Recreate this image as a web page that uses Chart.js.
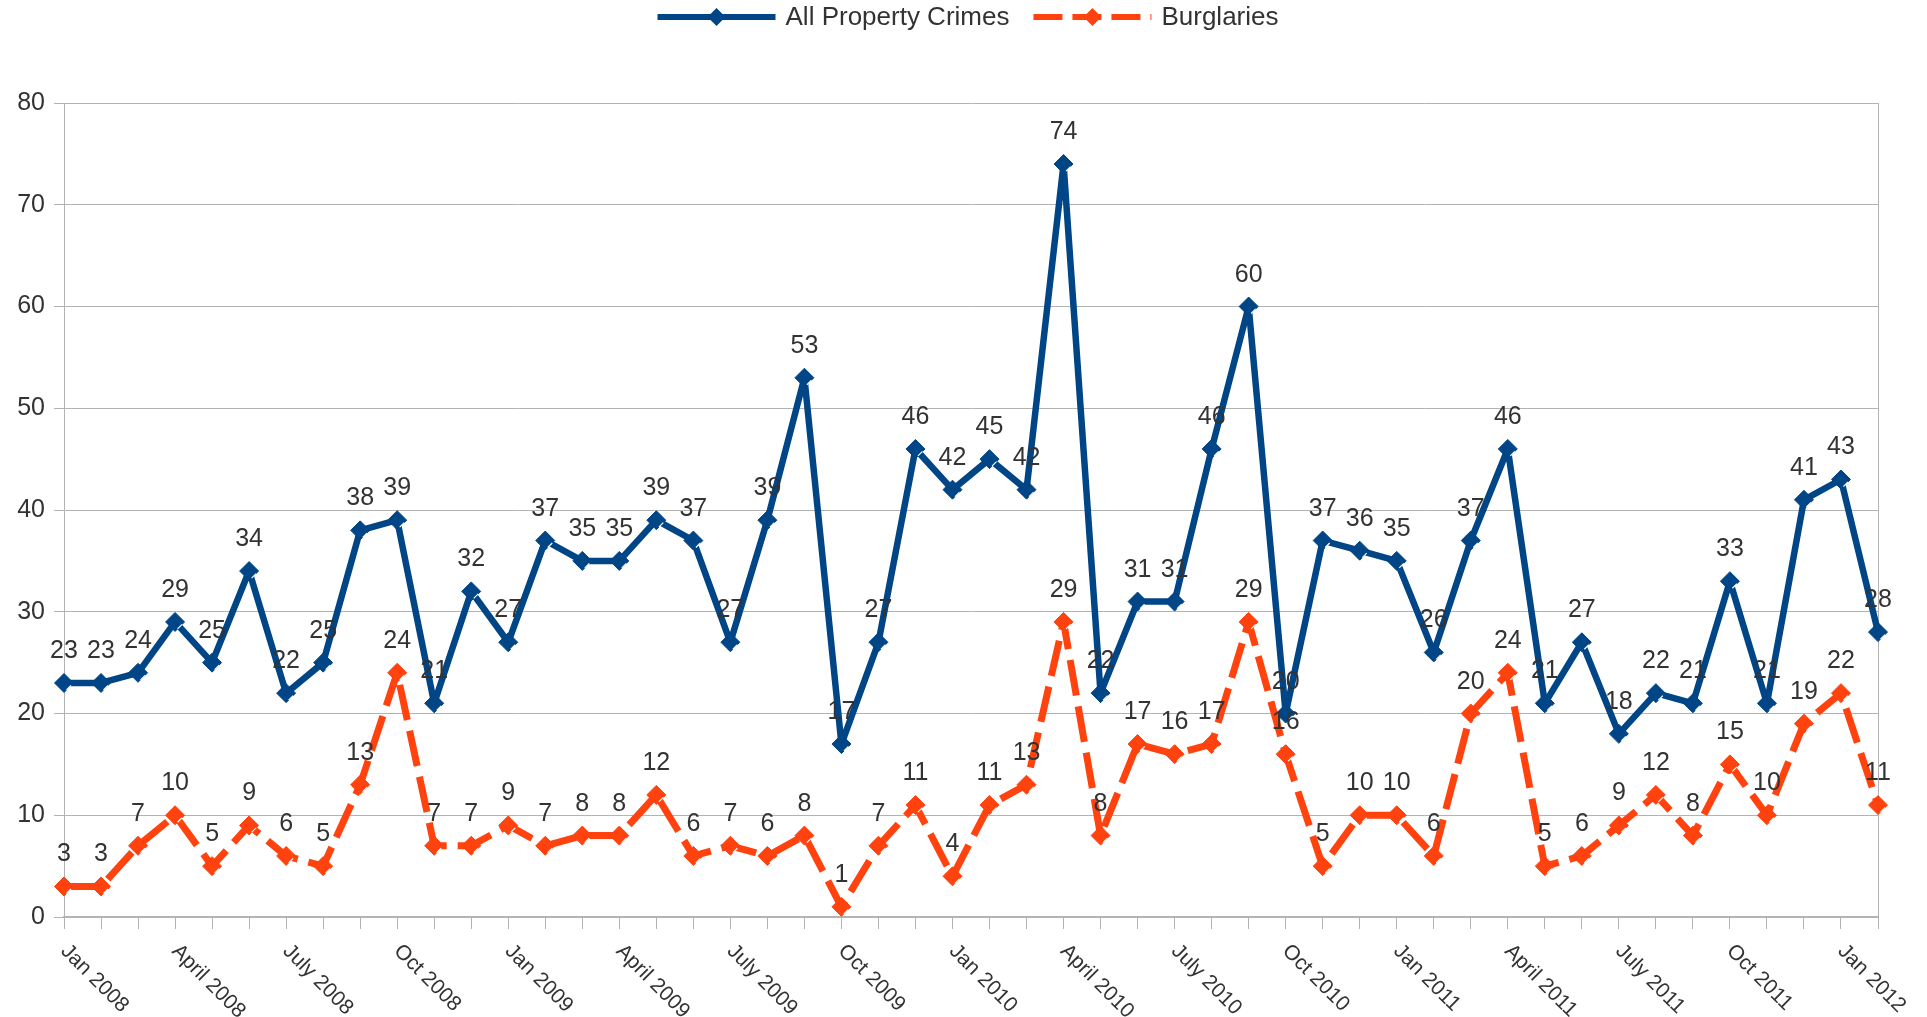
<!DOCTYPE html>
<html>
<head>
<meta charset="utf-8">
<script src="https://cdn.jsdelivr.net/npm/chart.js@4.4.0/dist/chart.umd.min.js"></script>
<style>
  html, body { margin: 0; padding: 0; background: #fff; overflow: hidden; }
  #wrap { width: 1927px; height: 1017px; }
</style>
</head>
<body>
<div id="wrap"><canvas id="chart"></canvas></div>
<script>
// month names used on the category axis (only every third one is shown)
const monthNames = ['Jan', 'Feb', 'March', 'April', 'May', 'June', 'July', 'Aug', 'Sept', 'Oct', 'Nov', 'Dec'];
const years = [2008, 2009, 2010, 2011, 2012];

const seriesNames = ['All Property Crimes', 'Burglaries'];

const allProperty = [23, 23, 24, 29, 25, 34, 22, 25, 38, 39, 21, 32, 27, 37, 35, 35, 39, 37, 27, 39,
  53, 17, 27, 46, 42, 45, 42, 74, 22, 31, 31, 46, 60, 20, 37, 36, 35, 26, 37, 46,
  21, 27, 18, 22, 21, 33, 21, 41, 43, 28];

const burglaries = [3, 3, 7, 10, 5, 9, 6, 5, 13, 24, 7, 7, 9, 7, 8, 8, 12, 6, 7, 6,
  8, 1, 7, 11, 4, 11, 13, 29, 8, 17, 16, 17, 29, 16, 5, 10, 10, 6, 20, 24,
  5, 6, 9, 12, 8, 15, 10, 19, 22, 11];

const yMin = 0, yMax = 80, yStep = 10;

// Jan 2008 .. Feb 2012, one per data point
const categories = [];
years.forEach(y => monthNames.forEach(m => {
  if (categories.length < allProperty.length) categories.push(m + ' ' + y);
}));

const BLUE = '#004586';
const ORANGE = '#ff420e';
const TEXT = '#333333';
const GRID = '#b3b3b3';
const FONT = '"Liberation Sans", Arial, sans-serif';
const DASH = [36, 11];

Chart.defaults.font.family = FONT;

function diamond(ctx, x, y, r, color) {
  ctx.beginPath();
  ctx.moveTo(x - r, y);
  ctx.lineTo(x, y - r);
  ctx.lineTo(x + r, y);
  ctx.lineTo(x, y + r);
  ctx.closePath();
  ctx.fillStyle = color;
  ctx.fill();
}

// little white bevel on the lower right edge of each marker + value labels
const valueLabels = {
  id: 'valueLabels',
  afterDatasetsDraw(chart) {
    const ctx = chart.ctx;
    ctx.save();
    chart.data.datasets.forEach((ds, i) => {
      chart.getDatasetMeta(i).data.forEach(pt => {
        ctx.beginPath();
        ctx.moveTo(pt.x + 7, pt.y + 2.5);
        ctx.lineTo(pt.x + 2.5, pt.y + 7);
        ctx.strokeStyle = '#ffffff';
        ctx.lineWidth = 1.2;
        ctx.stroke();
      });
    });
    ctx.font = '25px ' + FONT;
    ctx.fillStyle = TEXT;
    ctx.textAlign = 'center';
    ctx.textBaseline = 'alphabetic';
    chart.data.datasets.forEach((ds, i) => {
      chart.getDatasetMeta(i).data.forEach((pt, j) => {
        ctx.fillText(String(ds.data[j]), pt.x, pt.y - 25);
      });
    });
    ctx.restore();
  }
};

// rotated month labels (start at the tick and run down to the right)
const xLabels = {
  id: 'xLabels',
  afterDraw(chart) {
    const sx = chart.scales.x;
    const ctx = chart.ctx;
    ctx.save();
    ctx.font = '21px ' + FONT;
    ctx.fillStyle = TEXT;
    ctx.textAlign = 'left';
    ctx.textBaseline = 'middle';
    categories.forEach((c, i) => {
      if (i % 3 !== 0) return;
      const px = sx.getPixelForValue(i);
      ctx.save();
      ctx.translate(px, sx.top + 31);
      ctx.rotate(Math.PI / 4);
      ctx.fillText(c, 0, 0);
      ctx.restore();
    });
    ctx.restore();
  }
};

// legend: line + diamond sample, then the name
const topLegend = {
  id: 'topLegend',
  afterDraw(chart) {
    const ctx = chart.ctx;
    const lineLen = 118, gap = 10, itemGap = 24, cy = 17;
    ctx.save();
    ctx.font = '26px ' + FONT;
    const widths = seriesNames.map(n => ctx.measureText(n).width);
    const total = widths.reduce((a, w) => a + lineLen + gap + w, 0) + itemGap;
    let x = 968 - total / 2;
    const colors = [BLUE, ORANGE];
    seriesNames.forEach((name, i) => {
      ctx.beginPath();
      ctx.moveTo(x, cy);
      ctx.lineTo(x + lineLen, cy);
      ctx.strokeStyle = colors[i];
      ctx.lineWidth = 6;
      ctx.setLineDash(i === 1 ? [29, 10] : []);
      ctx.stroke();
      ctx.setLineDash([]);
      diamond(ctx, x + lineLen / 2, cy, 9, colors[i]);
      ctx.fillStyle = TEXT;
      ctx.textAlign = 'left';
      ctx.textBaseline = 'middle';
      ctx.fillText(name, x + lineLen + gap, cy + 1);
      x += lineLen + gap + widths[i] + itemGap;
    });
    ctx.restore();
  }
};

new Chart(document.getElementById('chart'), {
  type: 'line',
  data: {
    labels: categories,
    datasets: [
      {
        label: seriesNames[0],
        data: allProperty,
        borderColor: BLUE,
        backgroundColor: BLUE,
        borderWidth: 6.5,
        borderJoinStyle: 'round',
        pointStyle: 'rectRot',
        pointRadius: 9.5,
        pointBorderWidth: 1,
        pointBackgroundColor: BLUE,
        pointBorderColor: BLUE,
        tension: 0,
        order: 1
      },
      {
        label: seriesNames[1],
        data: burglaries,
        borderColor: ORANGE,
        backgroundColor: ORANGE,
        borderWidth: 7,
        borderDash: DASH,
        borderJoinStyle: 'round',
        pointStyle: 'rectRot',
        pointRadius: 9.5,
        pointBorderWidth: 1,
        pointBackgroundColor: ORANGE,
        pointBorderColor: ORANGE,
        tension: 0,
        order: 0
      }
    ]
  },
  options: {
    responsive: true,
    maintainAspectRatio: false,
    animation: false,
    layout: { padding: { top: 103, right: 49, left: 0, bottom: 0 } },
    plugins: {
      legend: { display: false },
      tooltip: { enabled: false }
    },
    scales: {
      x: {
        type: 'category',
        offset: false,
        ticks: { display: false, autoSkip: false },
        grid: {
          color: c => (c.index === categories.length - 1 ? GRID : 'rgba(0,0,0,0)'),
          tickColor: GRID,
          tickLength: 12,
          lineWidth: 1
        },
        border: { color: GRID, width: 2 },
        afterFit: s => { s.height = 100; }
      },
      y: {
        min: yMin,
        max: yMax,
        ticks: {
          stepSize: yStep,
          color: TEXT,
          font: { size: 25 },
          padding: 9
        },
        grid: { color: GRID, lineWidth: 1, tickLength: 10 },
        border: { color: GRID, width: 1 },
        afterFit: s => { s.width = 64; }
      }
    }
  },
  plugins: [valueLabels, xLabels, topLegend]
});
</script>
</body>
</html>
